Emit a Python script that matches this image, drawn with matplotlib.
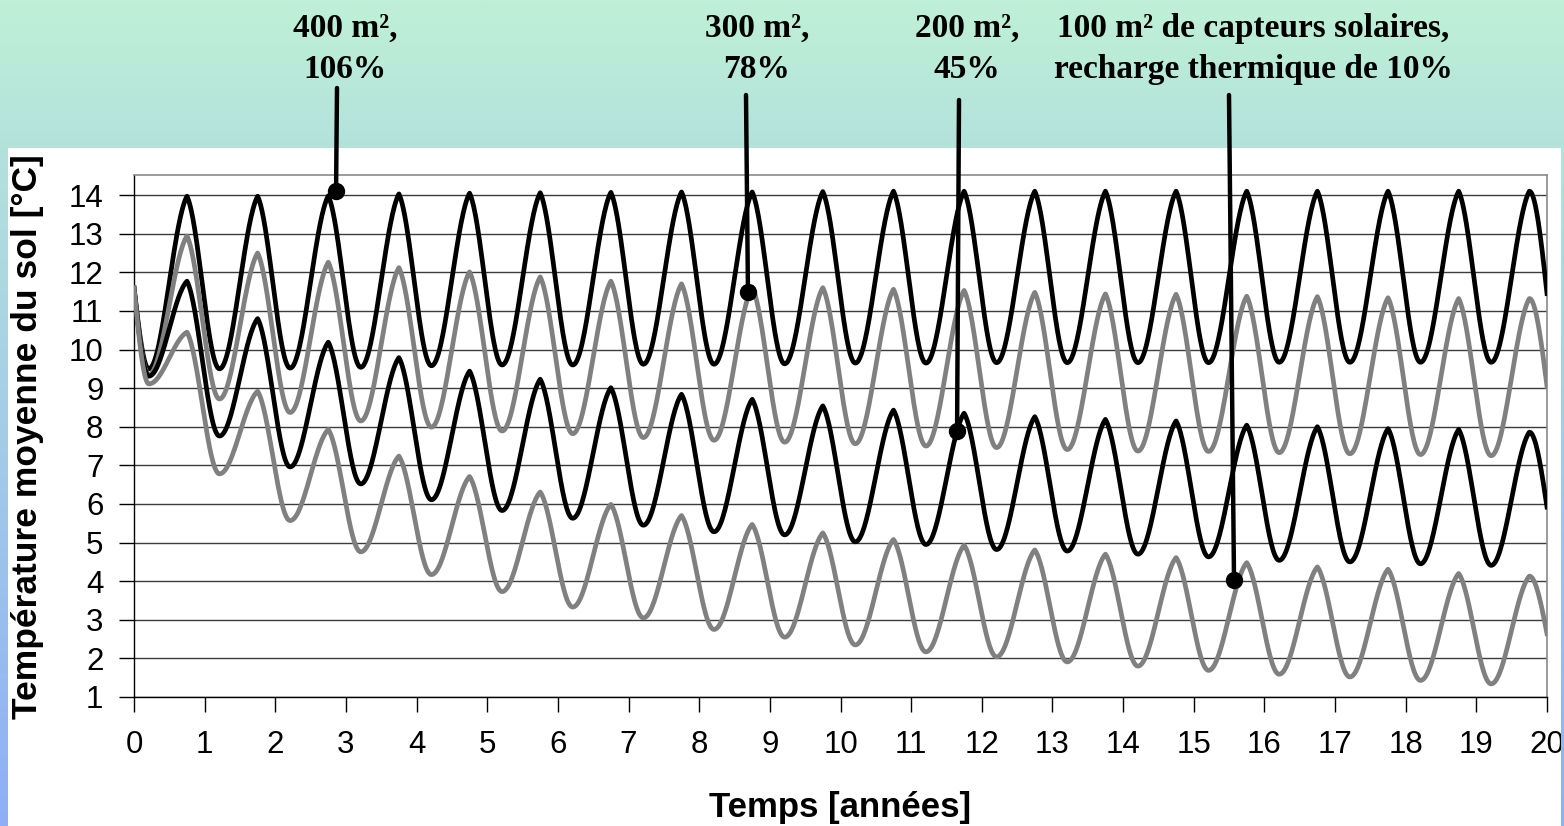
import numpy as np
import matplotlib
matplotlib.use('Agg')
import matplotlib.pyplot as plt
from matplotlib.colors import LinearSegmentedColormap

# ---------------- data ----------------
t_start = 0.0
t_end = 20.0
trough_phase = 0.21   # fraction of year where each annual minimum occurs
peak_phase = 0.75     # fraction of year where each annual maximum occurs
start_value = 11.6

troughs_400 = [9.50, 9.50, 9.52, 9.54, 9.58, 9.60, 9.60, 9.62, 9.62, 9.63,
               9.65, 9.65, 9.66, 9.66, 9.66, 9.66, 9.67, 9.67, 9.67, 9.67]
peaks_400 = [13.97, 13.97, 13.98, 14.03, 14.05, 14.06, 14.07, 14.08, 14.08, 14.09,
             14.10, 14.10, 14.10, 14.10, 14.10, 14.10, 14.10, 14.10, 14.10, 14.10]
end_400 = 11.45

troughs_300 = [9.35, 8.72, 8.37, 8.15, 7.99, 7.89, 7.82, 7.72, 7.65, 7.60,
               7.56, 7.50, 7.46, 7.41, 7.37, 7.36, 7.33, 7.30, 7.28, 7.25]
peaks_300 = [12.94, 12.50, 12.26, 12.12, 12.01, 11.88, 11.77, 11.70, 11.62, 11.60,
             11.56, 11.53, 11.48, 11.44, 11.43, 11.38, 11.37, 11.34, 11.32, 11.32]
end_300 = 9.05

troughs_200 = [9.31, 7.76, 6.96, 6.52, 6.11, 5.83, 5.63, 5.45, 5.28, 5.20,
               5.02, 4.95, 4.82, 4.78, 4.70, 4.63, 4.54, 4.50, 4.45, 4.41]
peaks_200 = [11.77, 10.80, 10.19, 9.79, 9.44, 9.23, 9.01, 8.84, 8.71, 8.54,
             8.43, 8.35, 8.26, 8.19, 8.15, 8.04, 8.00, 7.95, 7.93, 7.86]
end_200 = 5.92

troughs_100 = [9.11, 6.78, 5.57, 4.76, 4.17, 3.73, 3.33, 3.05, 2.75, 2.55,
               2.35, 2.17, 2.04, 1.91, 1.80, 1.69, 1.59, 1.52, 1.43, 1.34]
peaks_100 = [10.45, 8.92, 7.93, 7.24, 6.71, 6.31, 5.99, 5.70, 5.47, 5.25,
             5.08, 4.93, 4.81, 4.70, 4.61, 4.48, 4.37, 4.31, 4.20, 4.13]
end_100 = 2.64

x_ticks = list(range(0, 21))
y_ticks = list(range(1, 15))

labels = ["400 m²,\n106%", "300 m²,\n78%", "200 m²,\n45%",
          "100 m² de capteurs solaires,\nrecharge thermique de 10%"]
marker_t = [2.86, 8.69, 11.65, 15.57]
marker_v = [14.10, 11.49, 7.89, 4.03]

x_label = "Temps [années]"
y_label = "Température moyenne du sol [°C]"


# ---------------- curve builder: smooth shape between read extremes ----------------
def _shape(s):
    # 0 -> 1 rise from a rounded trough to a slightly sharper peak
    return 0.75 * (1 - np.cos(np.pi * s)) / 2 + 0.25 * (1 - np.cos(np.pi * s / 2))


def build_curve(start, troughs, peaks, end, n=60):
    ts, vs = [], []
    s = np.linspace(0, 1, n)
    t0, t1 = t_start, t_start + trough_phase
    ts.append(t0 + (t1 - t0) * s)
    vs.append(troughs[0] + (start - troughs[0]) * (1 - np.sin(np.pi / 2 * s)))
    for k in range(len(troughs)):
        ta, tb = k + trough_phase, k + peak_phase
        ts.append(ta + (tb - ta) * s[1:])
        vs.append(troughs[k] + (peaks[k] - troughs[k]) * _shape(s[1:]))
        if k + 1 < len(troughs):
            ta, tb = k + peak_phase, k + 1 + trough_phase
            ts.append(ta + (tb - ta) * s[1:])
            vs.append(troughs[k + 1] + (peaks[k] - troughs[k + 1]) * _shape(1 - s[1:]))
    ta, tb = len(peaks) - 1 + peak_phase, t_end
    ts.append(ta + (tb - ta) * s[1:])
    vs.append(peaks[-1] + (end - peaks[-1]) * (1 - np.cos(np.pi / 2 * s[1:])))
    return np.concatenate(ts), np.concatenate(vs)


W, H = 1564, 826
fig = plt.figure(figsize=(W / 100, H / 100), dpi=100)

# background gradient
bg = fig.add_axes([0, 0, 1, 1], zorder=-10)
cmap = LinearSegmentedColormap.from_list(
    "bg", [(0.0, "#bff0d6"), (148 / H, "#b3e2dc"), (1.0, "#8eaff7")])
grad = np.linspace(0, 1, 400).reshape(-1, 1)
bg.imshow(grad, aspect="auto", cmap=cmap, extent=[0, 1, 0, 1], origin="upper")
bg.add_patch(plt.Rectangle((8 / W, 0), (1561 - 8) / W, 1 - 148 / H,
                           transform=bg.transAxes, facecolor="white", edgecolor="none"))
bg.set_axis_off()

# main axes
ax = fig.add_axes([134 / W, 1 - 697 / H, (1547 - 134) / W, (697 - 175) / H])
ax.set_facecolor("white")

series = [
    (start_value, troughs_400, peaks_400, end_400, "black"),
    (start_value, troughs_300, peaks_300, end_300, "#808080"),
    (start_value, troughs_200, peaks_200, end_200, "black"),
    (start_value, troughs_100, peaks_100, end_100, "#808080"),
]
for st, tr, pk, en, col in series:
    t, v = build_curve(st, tr, pk, en)
    ax.plot(t, v, color=col, lw=3.4, zorder=3)

ax.set_xlim(0, 20)
ax.set_ylim(1, 14.52)
ax.set_xticks(x_ticks)
ax.set_yticks(y_ticks)
ax.yaxis.grid(True, color="#3c3c3c", lw=1.0)
ax.set_axisbelow(True)
for side in ["left", "bottom"]:
    ax.spines[side].set_color("black")
    ax.spines[side].set_linewidth(1.0)
for side in ["top", "right"]:
    ax.spines[side].set_color("#8a8a8a")
    ax.spines[side].set_linewidth(1.2)

ax.tick_params(axis="both", direction="out", length=11, width=1.0, color="black")
ax.tick_params(axis="x", pad=13)
ax.tick_params(axis="y", pad=11)
for lab in ax.get_xticklabels() + ax.get_yticklabels():
    lab.set_fontfamily("Liberation Sans")
    lab.set_fontsize(22.5)

fig.text(840 / W, 1 - 807 / H, x_label, ha="center", va="center",
         family="Liberation Sans", weight="bold", size=25)
fig.text(28 / W, 1 - 437 / H, y_label, ha="center", va="center", rotation=90,
         family="Liberation Sans", weight="bold", size=25.5)

# callouts
text_xy = [(345, 49), (757, 49), (967, 49), (1253, 49)]
line_top = [(337, 88), (746, 95), (959, 100), (1229, 95)]
for lab, (tx, ty), (lx, ly), mt, mv in zip(labels, text_xy, line_top, marker_t, marker_v):
    fig.text(tx / W, 1 - ty / H, lab, ha="center", va="center", multialignment="center",
             family="Liberation Serif", weight="bold", size=24, linespacing=1.45)
    ax.annotate("", xy=(mt, mv), xycoords="data",
                xytext=(lx, H - ly), textcoords="figure pixels",
                arrowprops=dict(arrowstyle="-", lw=3.2, color="black",
                                shrinkA=0, shrinkB=0), zorder=6, annotation_clip=False)
    ax.plot([mt], [mv], "o", color="black", ms=11.5, zorder=7, clip_on=False)

# right-edge strip drawn over everything (clips the last tick label like the original)
strip = fig.add_axes([1561 / W, 0, 3 / W, 1], zorder=20)
strip.imshow(grad, aspect="auto", cmap=cmap, extent=[0, 1, 0, 1], origin="upper")
strip.set_axis_off()

fig.savefig("out.png", dpi=100)
